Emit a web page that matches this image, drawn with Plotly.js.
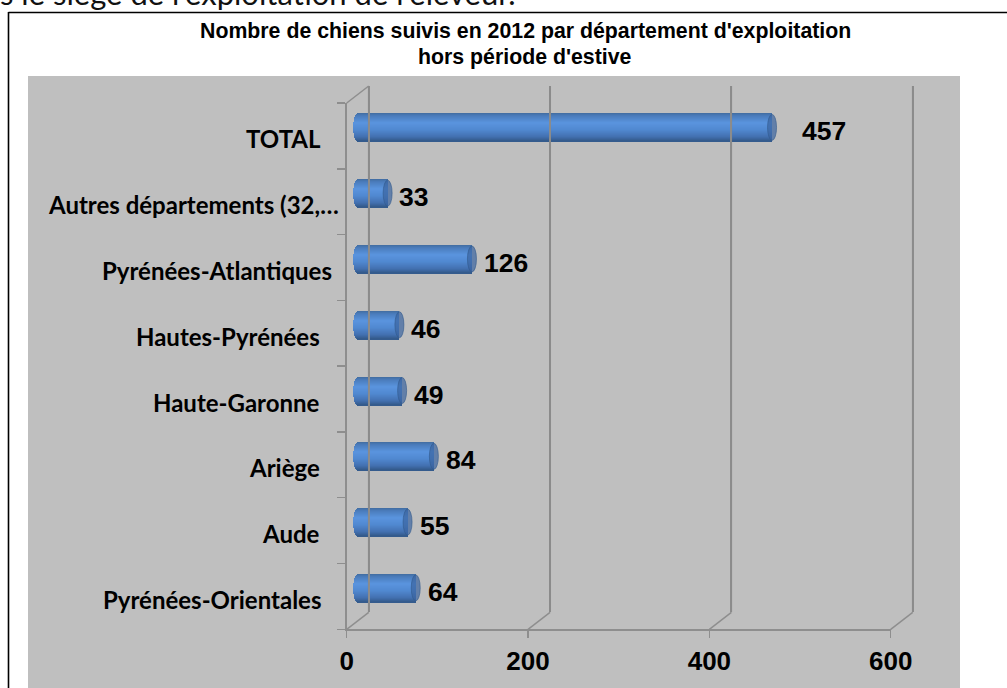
<!DOCTYPE html>
<html><head><meta charset="utf-8">
<script src="https://cdn.plot.ly/plotly-3.0.1.min.js"></script>
<style>html,body{margin:0;padding:0;background:#fff;overflow:hidden}</style>
</head><body><div id="chart" style="width:1007px;height:688px"></div>
<script>
const categories = ["Pyrénées-Orientales","Aude","Ariège","Haute-Garonne","Hautes-Pyrénées","Pyrénées-Atlantiques","Autres départements (32,…","TOTAL"];
const values = [64,55,84,49,46,126,33,457];
const xTicks = [0,200,400,600];
const titleLines = ["Nombre de chiens suivis en 2012 par département d'exploitation","hors période d'estive"];
const bodyText = "s le siège de l'exploitation de l'éleveur.";

// layout constants (pixels)
const W=1007,H=688;
const fx=346.7, fw=544, fTop=103, fBot=629.3;   // front plane
const depthX=22, depthY=17;                      // box depth
const labelRight=[323,322,322,322,322,334,341,323];
const valueGap=[10,10,10,10,10,10,9,28];
const R=14, capA=4.5;                            // cylinder half height, cap half width
const stops=[[0,[66,108,160]],[0.1,[74,124,188]],[0.35,[90,148,222]],[0.6,[80,136,208]],[0.85,[66,112,176]],[1,[50,88,136]]];
function colourAt(t){for(let i=1;i<stops.length;i++){if(t<=stops[i][0]){const a=stops[i-1],b=stops[i],f=(t-a[0])/(b[0]-a[0]);
  return 'rgb('+a[1].map((c,k)=>Math.round(c+(b[1][k]-c)*f)).join(',')+')';}}return 'rgb(50,88,136)';}

const ids=categories.map((_,i)=>i);
const pxX=600/fw, pxY=8/(fBot-fTop);
const fr=(px)=>px/W, frY=(py)=>1-py/H;
const grey='#8e8e8e';
const traces=[];
for(let row=0;row<2*R;row++){
  const t=(row+0.5)/(2*R), u=2*t-1, ext=capA*Math.sqrt(1-u*u);
  traces.push({type:'bar',orientation:'h',xaxis:'x2',yaxis:'y2',y:ids,
    x:values.map(v=>v+ext*pxX),
    base:values.map(()=>-ext*pxX),
    width:values.map(()=>2*pxY),
    offset:values.map(()=>(R-row-2)*pxY),
    marker:{color:colourAt(t),line:{width:0}},hoverinfo:'skip',showlegend:false});
}
// anchor traces keep the box axes alive
traces.push({type:'scatter',mode:'markers',x:[0],y:[0],xaxis:'x',yaxis:'y',marker:{opacity:0},hoverinfo:'skip',showlegend:false});
traces.push({type:'scatter',mode:'markers',x:[0],y:[0],xaxis:'x3',yaxis:'y3',marker:{opacity:0},hoverinfo:'skip',showlegend:false});

const shapes=[];
// border of the picture
shapes.push({type:'line',xref:'paper',yref:'paper',x0:fr(8.5),x1:1,y0:frY(12.5),y1:frY(12.5),line:{color:'#000',width:1.6},layer:'below'});
shapes.push({type:'line',xref:'paper',yref:'paper',x0:fr(8.5),x1:fr(8.5),y0:frY(12),y1:0,line:{color:'#000',width:1.6},layer:'below'});
// grey panel
shapes.push({type:'rect',xref:'paper',yref:'paper',x0:fr(28),x1:fr(960),y0:frY(76),y1:0,fillcolor:'#bfbfbf',line:{width:0},layer:'below'});
// depth diagonals, anchored in the mid-depth plane so they are not clipped
const diag=(v,c)=>({type:'line',xref:'x2',yref:'y2',xsizemode:'pixel',ysizemode:'pixel',xanchor:v,yanchor:c,x0:-depthX/2,x1:depthX/2,y0:-depthY/2,y1:depthY/2,line:{color:grey,width:1.5},layer:'below'});
xTicks.forEach(v=>shapes.push(diag(v,-0.5)));
shapes.push(diag(0,7.5));
// bar end caps
ids.forEach(i=>{
  shapes.push({type:'circle',xref:'x2',yref:'y2',xsizemode:'pixel',ysizemode:'pixel',xanchor:values[i],yanchor:i,x0:-capA,x1:capA,y0:-R+1,y1:R-1,
    fillcolor:'rgba(58,100,160,0.7)',line:{color:'rgba(50,90,140,0.6)',width:1},layer:'above'});
});
// back-wall lines showing faintly through the translucent bars
xTicks.forEach(v=>shapes.push({type:'line',xref:'x3',yref:'y3',x0:v,x1:v,y0:-0.5,y1:7.5,line:{color:'rgba(130,130,130,0.22)',width:2},layer:'above'}));

const ann=[];
ann.push({xref:'paper',yref:'paper',x:fr(-2),y:frY(-7),xanchor:'left',yanchor:'middle',showarrow:false,text:bodyText,font:{family:'Lato, sans-serif',size:31,color:'#111'}});
ann.push({xref:'paper',yref:'paper',x:fr(525),y:frY(31),xanchor:'center',yanchor:'middle',showarrow:false,text:titleLines[0],font:{family:'Liberation Sans, Arial, sans-serif',size:21.3,color:'#000',weight:700}});
ann.push({xref:'paper',yref:'paper',x:fr(525),y:frY(57),xanchor:'center',yanchor:'middle',showarrow:false,text:titleLines[1],font:{family:'Liberation Sans, Arial, sans-serif',size:21.3,color:'#000',weight:700}});
ids.forEach(i=>{
  ann.push({xref:'paper',yref:'y',x:fr(labelRight[i]),y:i,yshift:-3,xanchor:'right',yanchor:'middle',showarrow:false,text:categories[i],
    font:{family:'Lato, sans-serif',size:24,color:'#000',weight:700}});
  ann.push({xref:'x2',yref:'y2',x:values[i],xshift:valueGap[i],y:i,yshift:-4,xanchor:'left',yanchor:'middle',showarrow:false,text:String(values[i]),
    font:{family:'Liberation Sans, Arial, sans-serif',size:26.5,color:'#000',weight:700}});
});

const padX=40, padXpx=padX/pxX, padG=2, padGpx=padG/pxX;
const layout={width:W,height:H,margin:{l:0,r:0,t:0,b:0},paper_bgcolor:'#fff',plot_bgcolor:'rgba(0,0,0,0)',showlegend:false,bargap:0,barmode:'overlay',
  shapes:shapes,annotations:ann,
  xaxis:{domain:[fr(fx),fr(fx+fw)],range:[0,600],tickvals:xTicks,ticktext:xTicks.map(String),ticks:'outside',ticklen:7,tickwidth:1.5,tickcolor:grey,
    showline:true,linecolor:grey,linewidth:2,showgrid:false,zeroline:false,anchor:'y',
    tickfont:{family:'Liberation Sans, Arial, sans-serif',size:26,color:'#000',weight:700},fixedrange:true},
  yaxis:{domain:[frY(fBot),frY(fTop)],range:[-0.5,7.5],tick0:-0.5,dtick:1,showticklabels:false,ticks:'outside',ticklen:8,tickwidth:1.5,tickcolor:grey,
    showline:true,linecolor:grey,linewidth:2,showgrid:false,zeroline:false,anchor:'x',fixedrange:true},
  xaxis2:{domain:[fr(fx+depthX/2-padXpx),fr(fx+fw+depthX/2+padXpx)],range:[-padX,600+padX],visible:false,anchor:'y2',fixedrange:true},
  yaxis2:{domain:[frY(fBot-depthY/2+1/pxY),frY(fTop-depthY/2-1/pxY)],range:[-1.5,8.5],visible:false,anchor:'x2',fixedrange:true},
  xaxis3:{domain:[fr(fx+depthX-padGpx),fr(fx+fw+depthX+padGpx)],range:[-padG,600+padG],tickvals:xTicks,showticklabels:false,ticks:'',showgrid:true,gridcolor:grey,gridwidth:2,zeroline:false,showline:false,anchor:'y3',fixedrange:true},
  yaxis3:{domain:[frY(fBot-depthY),frY(fTop-depthY)],range:[-0.5,7.5],showticklabels:false,ticks:'',showgrid:false,zeroline:false,showline:false,anchor:'x3',fixedrange:true}
};
Plotly.newPlot('chart',traces,layout,{displayModeBar:false,staticPlot:true});
</script></body></html>
